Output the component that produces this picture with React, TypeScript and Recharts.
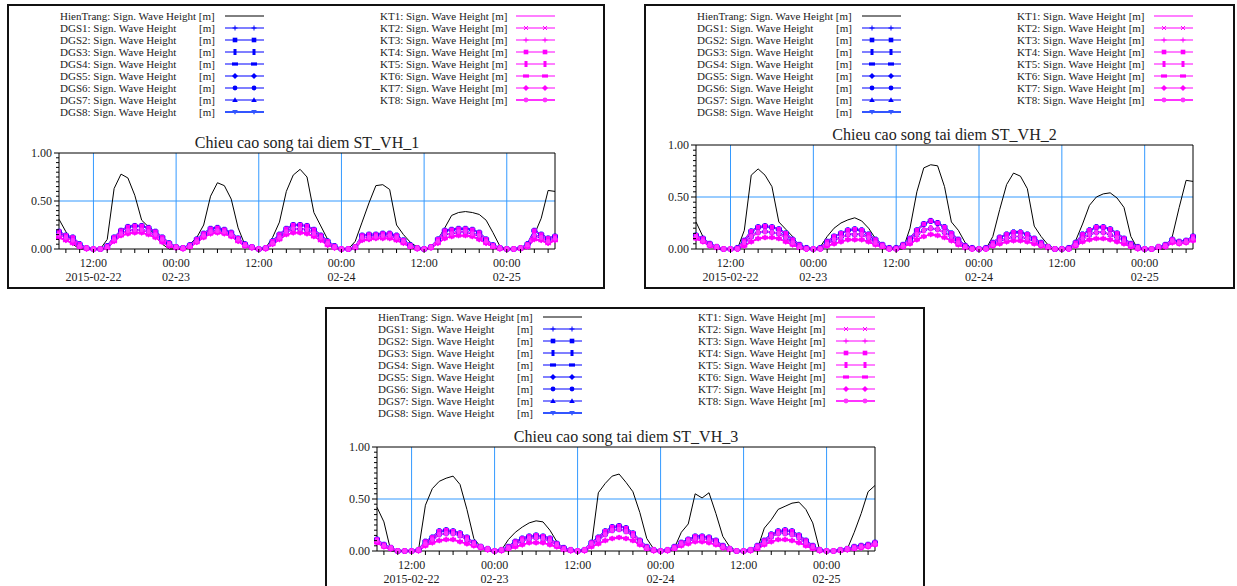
import React from "react";
import { LineChart, Line, XAxis, YAxis, ReferenceLine } from "recharts";

// hours since 2015-02-22 07:00
const HOURS = [
  0, 1, 2, 3, 4, 5, 6, 7, 8, 9, 10, 11, 12, 13, 14, 15, 16, 17, 18, 19, 20, 21, 22, 23, 24,
  25, 26, 27, 28, 29, 30, 31, 32, 33, 34, 35, 36, 37, 38, 39, 40, 41, 42, 43, 44, 45, 46, 47,
  48, 49, 50, 51, 52, 53, 54, 55, 56, 57, 58, 59, 60, 61, 62, 63, 64, 65, 66, 67, 68, 69, 70,
  71, 72,
];
const X_TICKS = [
  1, 3, 5, 7, 9, 11, 13, 15, 17, 19, 21, 23, 25, 27, 29, 31, 33, 35, 37, 39, 41, 43, 45, 47,
  49, 51, 53, 55, 57, 59, 61, 63, 65, 67, 69, 71,
];
const X_MAJOR = [5, 17, 29, 41, 53, 65];
const X_TIME = ["12:00", "00:00", "12:00", "00:00", "12:00", "00:00"];
const X_DATE = ["2015-02-22", "02-23", "", "02-24", "", "02-25"];
const Y_TICKS = [
  0, 0.05, 0.1, 0.15, 0.2, 0.25, 0.3, 0.35, 0.4, 0.45, 0.5, 0.55, 0.6, 0.65, 0.7, 0.75, 0.8,
  0.85, 0.9, 0.95, 1,
];
const Y_MAJOR = [0, 0.5, 1];

// wave heights in cm, hourly
const P1_HT = [31,18,5,0,0,0,0,10,63,78, 74,56,30,23,13,5,0,0,0,5, 12,25,55,69,66,52,22,4,0,0, 1,12,28,60,77,83,75,38,24,10, 1,0,0,8,28,48,66,67,62,25, 15,7,2,0,2,10,22,35,38,39, 38,36,30,17,3,0,0,0,3,15, 32,61,60];
const P1_UP = [18,14,12,5,1,0,0,3,12,19, 23,24,24,22,18,12,6,2,1,4, 10,16,21,22,20,17,11,5,2,0, 1,8,15,21,25,25,24,20,14,8, 3,0,0,2,14,15,15,16,16,14, 9,4,1,0,2,10,19,20,21,21, 20,17,10,4,1,0,0,1,5,19, 15,11,13];
const P1_MID = [15,12,9,3,1,0,0,2,10,16, 19,20,20,18,15,10,5,2,1,3, 8,14,18,19,18,15,10,4,2,0, 1,6,12,18,21,21,20,16,12,6, 2,0,0,2,12,12,13,14,14,12, 8,3,1,0,2,8,15,16,18,18, 16,14,8,3,1,0,0,1,4,14, 12,8,11];
const P1_LOW = [12,9,6,2,0,0,0,1,8,14, 16,17,17,15,12,7,3,1,0,2, 7,12,16,17,16,13,8,3,1,0, 0,5,10,15,17,17,16,13,9,4, 1,0,0,1,9,10,11,11,11,9, 6,2,0,0,1,6,11,13,14,14, 13,10,6,2,0,0,0,0,2,10, 9,6,9];

const P2_HT = [26,12,4,0,0,0,0,18,71,77, 71,60,26,19,12,1,0,0,2,12, 20,25,28,30,27,20,10,4,1,0, 0,20,55,78,81,80,60,26,18,6, 0,0,0,12,38,62,73,70,58,22, 12,4,0,0,0,8,24,42,50,53, 54,49,40,12,0,0,0,0,0,12, 40,66,65];
const P2_UP = [13,10,5,2,0,0,1,8,17,21, 22,21,19,15,9,4,1,0,1,7, 12,15,18,19,18,14,9,4,1,1, 4,10,18,24,27,25,21,15,9,3, 1,0,1,6,11,14,16,16,14,10, 6,2,0,0,1,6,14,18,21,21, 19,15,10,5,2,0,0,2,4,9, 7,8,12];
const P2_MID = [12,8,4,2,0,0,0,6,12,16, 17,16,15,11,6,2,0,0,0,5, 9,11,14,14,14,11,6,3,0,0, 3,8,14,18,20,19,16,12,6,2, 0,0,0,4,8,10,12,12,10,8, 4,2,0,0,0,4,10,14,16,16, 14,11,8,4,1,0,0,2,3,8, 6,7,10];
const P2_LOW = [10,7,3,1,0,0,0,3,7,10, 11,11,10,7,4,1,0,0,0,3, 5,7,9,9,9,7,4,2,0,0, 2,5,9,12,14,13,11,8,4,1, 0,0,0,3,5,7,8,8,7,5, 3,1,0,0,0,3,7,9,10,10, 9,7,5,2,0,0,0,1,2,6, 5,6,8];

const P3_HT = [42,28,0,0,0,0,1,44,60,67, 70,72,64,40,12,4,0,0,1,11, 18,23,27,29,28,20,9,2,0,0, 0,5,56,65,72,74,66,57,37,12, 2,0,0,3,18,26,55,51,56,36, 14,4,0,0,0,2,22,30,40,43, 46,47,40,27,1,0,0,0,2,18, 36,57,63];
const P3_UP = [11,6,3,0,0,0,1,9,13,19, 20,19,17,13,8,4,2,0,1,4, 9,12,14,15,14,12,7,3,1,0, 1,8,13,19,23,24,22,17,10,4, 1,0,1,4,8,11,14,14,13,10, 5,2,0,0,1,5,10,16,19,20, 19,15,10,5,1,0,0,1,2,4, 5,6,8];
const P3_MID = [10,5,3,0,0,0,1,7,11,16, 17,17,15,11,7,4,2,0,1,3, 7,10,12,13,12,10,6,2,1,0, 1,7,11,16,20,21,19,15,9,3, 1,0,1,3,7,10,12,12,11,8, 4,2,0,0,1,4,8,14,17,17, 16,13,8,4,1,0,0,1,2,3, 4,5,7];
const P3_LOW = [8,4,2,0,0,0,0,5,8,10, 11,11,9,7,5,3,1,0,0,2, 4,6,8,8,8,6,4,1,0,0, 0,4,7,10,12,13,12,10,6,2, 0,0,0,2,5,7,9,9,8,6, 3,1,0,0,0,2,6,9,11,11, 10,8,5,2,0,0,0,0,1,2, 3,4,6];

const BLUE = "#0000ff";
const PINK = "#ff00ff";
const GRID = "#3399ff";
const FONT = "'Liberation Serif', 'Times New Roman', serif";

const SERIES = [
  { key: "HienTrang", color: "#000000", shape: "none", w: 1 },
  { key: "DGS1", color: BLUE, shape: "plus", w: 1.2 },
  { key: "DGS2", color: BLUE, shape: "square", w: 1.2 },
  { key: "DGS3", color: BLUE, shape: "tall", w: 1.2 },
  { key: "DGS4", color: BLUE, shape: "wide", w: 1.2 },
  { key: "DGS5", color: BLUE, shape: "diamond", w: 1.2 },
  { key: "DGS6", color: BLUE, shape: "circle", w: 1.2 },
  { key: "DGS7", color: BLUE, shape: "triUp", w: 1.2 },
  { key: "DGS8", color: "#3355ff", shape: "triDown", w: 2 },
  { key: "KT1", color: PINK, shape: "none", w: 1.2 },
  { key: "KT2", color: PINK, shape: "cross", w: 1.2 },
  { key: "KT3", color: PINK, shape: "plus", w: 1.2 },
  { key: "KT4", color: PINK, shape: "square", w: 1.2 },
  { key: "KT5", color: PINK, shape: "tall", w: 1.2 },
  { key: "KT6", color: PINK, shape: "wide", w: 1.2 },
  { key: "KT7", color: PINK, shape: "diamond", w: 1.2 },
  { key: "KT8", color: "#ff33ff", shape: "circle", w: 2 },
];

function seriesFor(ht: number[], up: number[], mid: number[], low: number[]) {
  return {
    HienTrang: ht,
    DGS1: mid, DGS2: up, DGS3: up, DGS4: up, DGS5: mid, DGS6: mid, DGS7: mid, DGS8: up,
    KT1: mid, KT2: low, KT3: low, KT4: up, KT5: mid, KT6: low, KT7: low, KT8: mid,
  } as Record<string, number[]>;
}

function buildRows(src: Record<string, number[]>) {
  return HOURS.map((h, i) => {
    const row: Record<string, number> = { h };
    SERIES.forEach((s) => (row[s.key] = src[s.key][i] / 100));
    return row;
  });
}

const PANELS = [
  {
    title: "Chieu cao song tai diem ST_VH_1",
    frame: { left: 7, top: 4, width: 598, height: 285 },
    plot: { l: 59, t: 153, r: 555, b: 249 },
    legendY: 16,
    rows: buildRows(seriesFor(P1_HT, P1_UP, P1_MID, P1_LOW)),
  },
  {
    title: "Chieu cao song tai diem ST_VH_2",
    frame: { left: 644, top: 4, width: 591, height: 285 },
    plot: { l: 696, t: 145, r: 1193, b: 249 },
    legendY: 16,
    rows: buildRows(seriesFor(P2_HT, P2_UP, P2_MID, P2_LOW)),
  },
  {
    title: "Chieu cao song tai diem ST_VH_3",
    frame: { left: 325, top: 307, width: 600, height: 295 },
    plot: { l: 377, t: 447, r: 875, b: 551 },
    legendY: 317,
    rows: buildRows(seriesFor(P3_HT, P3_UP, P3_MID, P3_LOW)),
  },
];

const TOP_PAD = 12;

function Marker({ shape, x, y, color }: { shape: string; x: number; y: number; color: string }) {
  switch (shape) {
    case "plus":
      return <path d={`M${x - 2.5},${y}H${x + 2.5}M${x},${y - 2.5}V${y + 2.5}`} stroke={color} strokeWidth={1} fill="none" />;
    case "cross":
      return <path d={`M${x - 2},${y - 2}L${x + 2},${y + 2}M${x - 2},${y + 2}L${x + 2},${y - 2}`} stroke={color} strokeWidth={1} fill="none" />;
    case "square":
      return <rect x={x - 2.3} y={y - 2.3} width={4.6} height={4.6} fill={color} />;
    case "tall":
      return <rect x={x - 1.5} y={y - 3} width={3} height={6} fill={color} />;
    case "wide":
      return <rect x={x - 3} y={y - 1.6} width={6} height={3.2} fill={color} />;
    case "diamond":
      return <polygon points={`${x},${y - 3} ${x + 3},${y} ${x},${y + 3} ${x - 3},${y}`} fill={color} />;
    case "circle":
      return <circle cx={x} cy={y} r={2.4} fill={color} />;
    case "triUp":
      return <polygon points={`${x},${y - 2.8} ${x + 2.8},${y + 2} ${x - 2.8},${y + 2}`} fill={color} />;
    case "triDown":
      return <polygon points={`${x},${y + 2.8} ${x + 2.8},${y - 2} ${x - 2.8},${y - 2}`} fill={color} />;
    default:
      return null;
  }
}

function XTick(props: any) {
  const { x, y, payload } = props;
  const k = X_MAJOR.indexOf(payload.value);
  return (
    <g>
      <line x1={x} y1={y} x2={x} y2={y + 4} stroke="#000" />
      {k >= 0 && (
        <text x={x} y={y + 18} textAnchor="middle" fontSize={12} fontFamily={FONT} fill="#222">
          {X_TIME[k]}
        </text>
      )}
      {k >= 0 && X_DATE[k] !== "" && (
        <text x={x} y={y + 32} textAnchor="middle" fontSize={12} fontFamily={FONT} fill="#222">
          {X_DATE[k]}
        </text>
      )}
    </g>
  );
}

function YTick(props: any) {
  const { x, y, payload, side } = props;
  const v = payload.value as number;
  const major = Y_MAJOR.some((m) => Math.abs(m - v) < 1e-6);
  const len = major ? 5 : 3;
  const dir = side === "left" ? -1 : 1;
  return (
    <g>
      <line x1={x} y1={y} x2={x + dir * len} y2={y} stroke="#000" />
      {major && (
        <text
          x={side === "left" ? x - 7 : x + 5}
          y={y + 4}
          textAnchor={side === "left" ? "end" : "start"}
          fontSize={12}
          fontFamily={FONT}
          fill="#222"
        >
          {v.toFixed(2)}
        </text>
      )}
    </g>
  );
}

function Chart({ panel }: { panel: (typeof PANELS)[number] }) {
  const { l, t, r, b } = panel.plot;
  return (
    <div style={{ position: "absolute", left: l - 45, top: t - TOP_PAD }}>
      <LineChart
        width={r - l + 90}
        height={b - t + 40 + TOP_PAD}
        data={panel.rows}
        margin={{ top: TOP_PAD, right: 5, bottom: 5, left: 5 }}
      >
        <XAxis
          dataKey="h"
          type="number"
          domain={[0, 72]}
          ticks={X_TICKS}
          interval={0}
          tickSize={0}
          tickMargin={0}
          tickLine={false}
          tick={<XTick />}
          axisLine={{ stroke: "#000" }}
          height={35}
        />
        <YAxis
          yAxisId="l"
          domain={[0, 1]}
          ticks={Y_TICKS}
          interval={0}
          width={40}
          tickSize={0}
          tickMargin={0}
          tickLine={false}
          tick={<YTick side="left" />}
          axisLine={{ stroke: "#000" }}
        />
        <YAxis
          yAxisId="r"
          orientation="right"
          domain={[0, 1]}
          ticks={Y_TICKS}
          interval={0}
          width={40}
          tickSize={0}
          tickMargin={0}
          tickLine={false}
          tick={<YTick side="right" />}
          axisLine={{ stroke: "#000" }}
        />
        {X_MAJOR.map((xv) => (
          <ReferenceLine key={`g${xv}`} x={xv} yAxisId="l" stroke={GRID} strokeWidth={1} />
        ))}
        <ReferenceLine y={0.5} yAxisId="l" stroke={GRID} strokeWidth={1} />
        <ReferenceLine y={1} yAxisId="l" stroke="#000" strokeWidth={1} />
        {SERIES.map((s) => (
          <Line
            key={s.key}
            yAxisId="l"
            type="linear"
            dataKey={s.key}
            stroke={s.color}
            strokeWidth={s.w}
            isAnimationActive={false}
            activeDot={false}
            dot={
              s.shape === "none"
                ? false
                : (p: any) => (
                    <g key={`${s.key}-${p.index}`}>
                      <Marker shape={s.shape} x={p.cx} y={p.cy} color={s.color} />
                    </g>
                  )
            }
          />
        ))}
      </LineChart>
    </div>
  );
}

function Overlay() {
  return (
    <svg
      width={1237}
      height={586}
      style={{ position: "absolute", left: 0, top: 0, pointerEvents: "none" }}
    >
      {PANELS.map((p, pi) => {
        const { l, t, r } = p.plot;
        const dgs = SERIES.slice(0, 9);
        const kt = SERIES.slice(9);
        return (
          <g key={pi} fontFamily={FONT} fill="#222">
            <text x={(l + r) / 2} y={t - 5} textAnchor="middle" fontSize={16}>
              {p.title}
            </text>
            {dgs.map((s, i) => {
              const cy = p.legendY + i * 12;
              const x1 = l + 166;
              const x2 = l + 205;
              return (
                <g key={s.key}>
                  {i === 0 ? (
                    <text x={l + 1} y={cy + 4} fontSize={11}>
                      HienTrang: Sign. Wave Height [m]
                    </text>
                  ) : (
                    <>
                      <text x={l + 1} y={cy + 4} fontSize={11}>
                        {`${s.key}: Sign. Wave Height`}
                      </text>
                      <text x={l + 156} y={cy + 4} fontSize={11} textAnchor="end">
                        [m]
                      </text>
                    </>
                  )}
                  <line x1={x1} y1={cy} x2={x2} y2={cy} stroke={s.color} strokeWidth={s.w} />
                  <Marker shape={s.shape} x={x1 + 10} y={cy} color={s.color} />
                  <Marker shape={s.shape} x={x1 + 29} y={cy} color={s.color} />
                </g>
              );
            })}
            {kt.map((s, i) => {
              const cy = p.legendY + i * 12;
              const x1 = r - 39;
              const x2 = r;
              return (
                <g key={s.key}>
                  <text x={l + 321} y={cy + 4} fontSize={11}>
                    {`${s.key}: Sign. Wave Height [m]`}
                  </text>
                  <line x1={x1} y1={cy} x2={x2} y2={cy} stroke={s.color} strokeWidth={s.w} />
                  <Marker shape={s.shape} x={x1 + 10} y={cy} color={s.color} />
                  <Marker shape={s.shape} x={x1 + 29} y={cy} color={s.color} />
                </g>
              );
            })}
          </g>
        );
      })}
    </svg>
  );
}

export default function App() {
  return (
    <div
      style={{
        position: "fixed",
        left: 0,
        top: 0,
        width: 1237,
        height: 586,
        overflow: "hidden",
        background: "#fff",
      }}
    >
      {PANELS.map((p, i) => (
        <div
          key={`f${i}`}
          style={{
            position: "absolute",
            left: p.frame.left,
            top: p.frame.top,
            width: p.frame.width,
            height: p.frame.height,
            border: "2px solid #111",
            boxSizing: "border-box",
          }}
        />
      ))}
      {PANELS.map((p, i) => (
        <Chart key={`c${i}`} panel={p} />
      ))}
      <Overlay />
    </div>
  );
}
